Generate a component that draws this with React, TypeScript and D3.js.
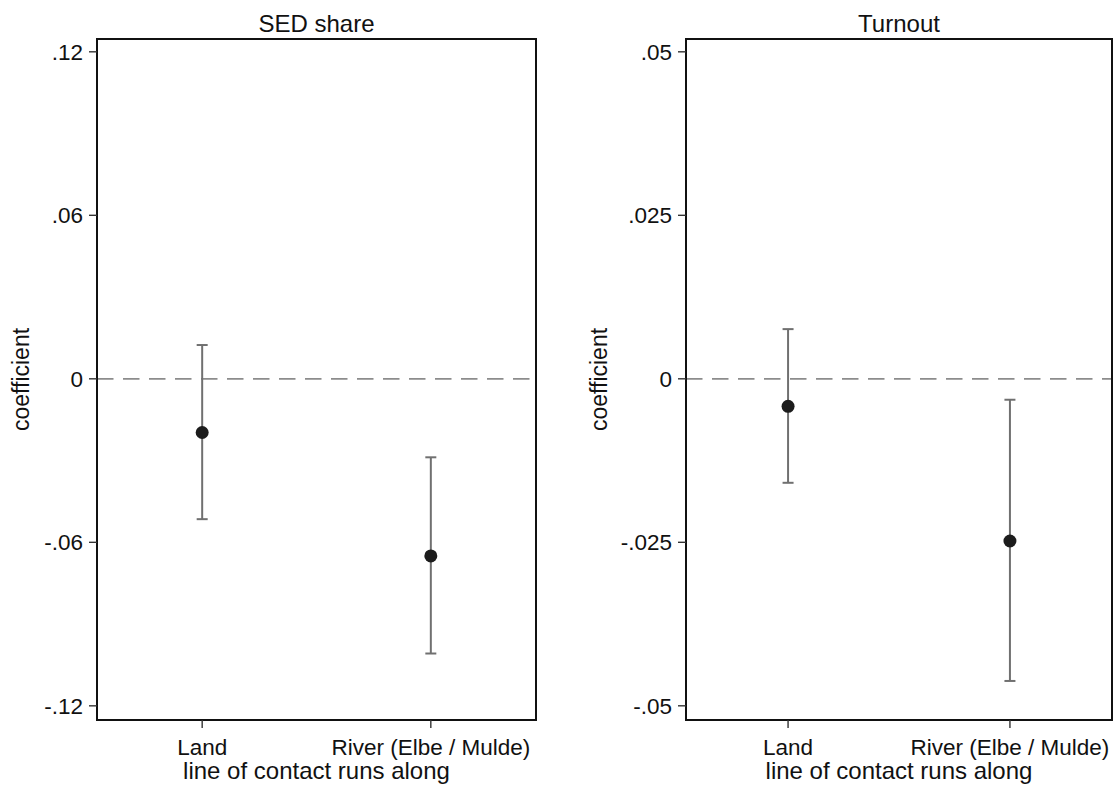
import React from "react";
import * as d3 from "d3";

const categories = ["Land", "River (Elbe / Mulde)"];

const sedCoef = [-0.0197, -0.065];
const sedLo = [-0.0515, -0.1008];
const sedHi = [0.0124, -0.0288];
const sedTicks = [0.12, 0.06, 0, -0.06, -0.12];
const sedTickLabels = [".12", ".06", "0", "-.06", "-.12"];

const turnoutCoef = [-0.0042, -0.0248];
const turnoutLo = [-0.0159, -0.0462];
const turnoutHi = [0.0076, -0.0032];
const turnoutTicks = [0.05, 0.025, 0, -0.025, -0.05];
const turnoutTickLabels = [".05", ".025", "0", "-.025", "-.05"];

const FONT = "'Liberation Sans', Arial, Helvetica, sans-serif";

type PanelProps = {
  title: string;
  left: number;
  right: number;
  domain: [number, number];
  coef: number[];
  lo: number[];
  hi: number[];
  ticks: number[];
  tickLabels: string[];
  yTitleX: number;
};

const TOP = 39;
const BOTTOM = 720;

function Panel(p: PanelProps) {
  const x = d3.scaleLinear().domain([0.54, 2.46]).range([p.left, p.right]);
  const y = d3.scaleLinear().domain(p.domain).range([BOTTOM, TOP]);
  const cx = (p.left + p.right) / 2;
  const midY = (TOP + BOTTOM) / 2;
  return (
    <g>
      <text x={cx} y={32} textAnchor="middle" fontSize={24} fill="#111">
        {p.title}
      </text>
      {/* zero reference line */}
      <line
        x1={p.left}
        x2={p.right}
        y1={y(0)}
        y2={y(0)}
        stroke="#8c8c8c"
        strokeWidth={1.7}
        strokeDasharray="16.5 9.5"
      />
      {/* error bars */}
      {categories.map((c, i) => {
        const xi = x(i + 1);
        return (
          <g key={c}>
            <line x1={xi} x2={xi} y1={y(p.hi[i])} y2={y(p.lo[i])} stroke="#707070" strokeWidth={2} />
            <line x1={xi - 5.5} x2={xi + 5.5} y1={y(p.hi[i])} y2={y(p.hi[i])} stroke="#707070" strokeWidth={2} />
            <line x1={xi - 5.5} x2={xi + 5.5} y1={y(p.lo[i])} y2={y(p.lo[i])} stroke="#707070" strokeWidth={2} />
            <circle cx={xi} cy={y(p.coef[i])} r={6.5} fill="#1c1c1c" />
          </g>
        );
      })}
      {/* frame */}
      <rect
        x={p.left}
        y={TOP}
        width={p.right - p.left}
        height={BOTTOM - TOP}
        fill="none"
        stroke="#111"
        strokeWidth={2}
      />
      {/* y ticks */}
      {p.ticks.map((t, i) => (
        <g key={t}>
          <line x1={p.left - 8} x2={p.left} y1={y(t)} y2={y(t)} stroke="#333" strokeWidth={1.4} />
          <text
            x={p.left - 14}
            y={y(t)}
            dy="0.36em"
            textAnchor="end"
            fontSize={22.5}
            fill="#111"
          >
            {p.tickLabels[i]}
          </text>
        </g>
      ))}
      {/* x ticks */}
      {categories.map((c, i) => (
        <g key={c}>
          <line x1={x(i + 1)} x2={x(i + 1)} y1={BOTTOM} y2={BOTTOM + 8} stroke="#333" strokeWidth={1.4} />
          <text x={x(i + 1)} y={755} textAnchor="middle" fontSize={22.5} fill="#111">
            {c}
          </text>
        </g>
      ))}
      <text x={cx} y={779} textAnchor="middle" fontSize={24} fill="#111">
        line of contact runs along
      </text>
      <text
        transform={`translate(${p.yTitleX},${midY}) rotate(-90)`}
        textAnchor="middle"
        fontSize={23}
        fill="#111"
      >
        coefficient
      </text>
    </g>
  );
}

export default function App() {
  return (
    <svg
      width={1118}
      height={789}
      style={{ position: "absolute", left: 0, top: 0, background: "#fff", fontFamily: FONT }}
    >
      <rect x={0} y={0} width={1118} height={789} fill="#fff" />
      <Panel
        title="SED share"
        left={97}
        right={536}
        domain={[-0.1252, 0.1247]}
        coef={sedCoef}
        lo={sedLo}
        hi={sedHi}
        ticks={sedTicks}
        tickLabels={sedTickLabels}
        yTitleX={29}
      />
      <Panel
        title="Turnout"
        left={686}
        right={1112}
        domain={[-0.05217, 0.05196]}
        coef={turnoutCoef}
        lo={turnoutLo}
        hi={turnoutHi}
        ticks={turnoutTicks}
        tickLabels={turnoutTickLabels}
        yTitleX={607}
      />
    </svg>
  );
}
